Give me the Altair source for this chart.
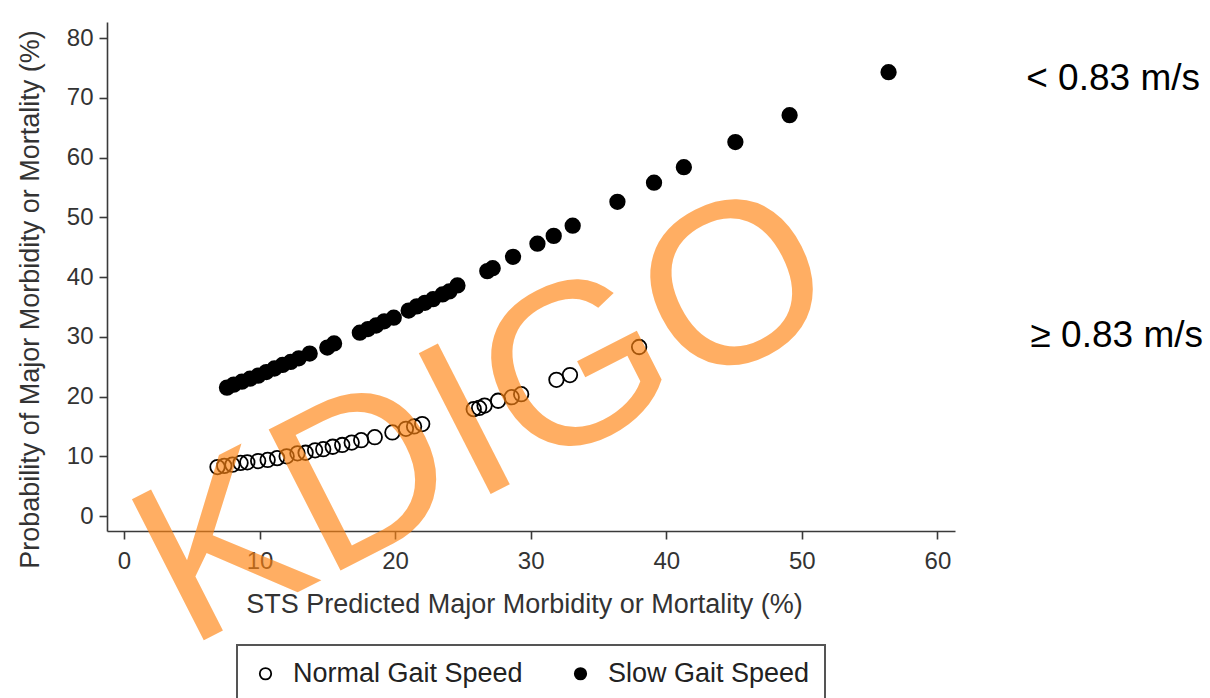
import altair as alt
import pandas as pd

# ---- data ----
normal_x = [6.9, 7.4, 8.0, 8.6, 9.1, 9.9, 10.6, 11.3, 12.0, 12.8, 13.4, 14.1, 14.7, 15.4,
            16.1, 16.8, 17.5, 18.5, 19.8, 20.8, 21.4, 22.0, 25.8, 26.2, 26.6, 27.6, 28.6,
            29.3, 31.9, 32.9, 38.0]
normal_y = [8.2, 8.4, 8.6, 8.9, 9.0, 9.2, 9.4, 9.7, 10.0, 10.5, 10.6, 11.0, 11.2, 11.6,
            11.9, 12.3, 12.7, 13.2, 14.0, 14.6, 15.0, 15.4, 17.9, 18.1, 18.5, 19.3, 19.9,
            20.4, 22.8, 23.6, 28.3]
slow_x = [7.6, 8.1, 8.7, 9.3, 9.9, 10.5, 11.1, 11.7, 12.3, 12.9, 13.7, 15.0, 15.5, 17.4,
          18.0, 18.6, 19.2, 19.9, 21.0, 21.6, 22.2, 22.8, 23.5, 24.0, 24.6, 26.8, 27.2,
          28.7, 30.5, 31.7, 33.1, 36.4, 39.1, 41.3, 45.1, 49.1, 56.4]
slow_y = [21.5, 22.0, 22.5, 23.0, 23.5, 24.1, 24.7, 25.3, 25.8, 26.4, 27.2, 28.2, 28.9, 30.7,
          31.3, 31.9, 32.6, 33.2, 34.4, 35.1, 35.7, 36.3, 37.1, 37.6, 38.6, 41.0, 41.5,
          43.4, 45.6, 46.9, 48.6, 52.6, 55.8, 58.4, 62.6, 67.1, 74.3]
series_names = ["Normal Gait Speed", "Slow Gait Speed"]
x_ticks = [0, 10, 20, 30, 40, 50, 60]
y_ticks = [0, 10, 20, 30, 40, 50, 60, 70, 80]
x_title = "STS Predicted Major Morbidity or Mortality (%)"
y_title = "Probability of Major Morbidity or Mortality (%)"
annotations = ["< 0.83 m/s", "≥ 0.83 m/s"]
watermark = ["KDIGO"]

df = pd.concat([
    pd.DataFrame({"x": normal_x, "y": normal_y, "group": series_names[0]}),
    pd.DataFrame({"x": slow_x, "y": slow_y, "group": series_names[1]}),
], ignore_index=True)

FONT = "Liberation Sans"

points = alt.Chart(df).mark_point(
    filled=True, size=210, stroke="black", strokeWidth=1.8, opacity=1, shape="circle"
).encode(
    x=alt.X("x:Q", scale=alt.Scale(domain=[-1.25, 61.3], nice=False, zero=False),
            axis=alt.Axis(values=x_ticks, title=x_title, titleX=417, titleY=73,
                          titleBaseline="middle", labelPadding=10)),
    y=alt.Y("y:Q", scale=alt.Scale(domain=[-2.5, 82.7], nice=False, zero=False),
            axis=alt.Axis(values=y_ticks, title=y_title, titleX=-77, titleY=277,
                          titleAngle=270, titleBaseline="middle", titleAlign="center",
                          labelPadding=6)),
    fill=alt.Fill("group:N",
                  scale=alt.Scale(domain=series_names, range=["transparent", "black"]),
                  legend=alt.Legend(title=None, orient="none", legendX=130, legendY=623,
                                    direction="horizontal", labelLimit=0)),
)

wm = alt.Chart(pd.DataFrame({"t": watermark})).mark_text(
    angle=333, fontSize=230, font="Liberation Sans Narrow, Liberation Sans",
    color="#FF8411", opacity=0.65, align="center", baseline="middle"
).encode(text="t:N", x=alt.value(379), y=alt.value(397))

ann1 = alt.Chart(pd.DataFrame({"t": annotations[:1]})).mark_text(
    fontSize=37, font=FONT, color="black", align="right", baseline="middle"
).encode(text="t:N", x=alt.value(1093), y=alt.value(57))

ann2 = alt.Chart(pd.DataFrame({"t": annotations[1:]})).mark_text(
    fontSize=37, font=FONT, color="black", align="right", baseline="middle"
).encode(text="t:N", x=alt.value(1096), y=alt.value(314))

chart = alt.layer(points, wm, ann1, ann2).properties(
    width=848, height=509, autosize="none",
    padding={"left": 107, "top": 22, "right": 255, "bottom": 167},
).configure_view(strokeWidth=0).configure_axis(
    grid=False, domainColor="#3a3a3a", domainWidth=1.6, tickColor="#3a3a3a",
    tickWidth=1.6, tickSize=8, labelFont=FONT, labelFontSize=24, labelColor="#333333",
    titleFont=FONT, titleFontSize=27, titleFontWeight="normal", titleColor="#333333",
).configure_legend(
    strokeColor="#555555", strokeWidth=2, padding=15, labelFont=FONT, labelFontSize=27,
    labelColor="#222222", symbolSize=130, symbolStrokeColor="black", symbolStrokeWidth=1.8,
    symbolType="circle", labelOffset=14, columnPadding=44, labelLimit=0,
)

chart.save("out.html", embed_options={"renderer": "svg", "actions": False})
